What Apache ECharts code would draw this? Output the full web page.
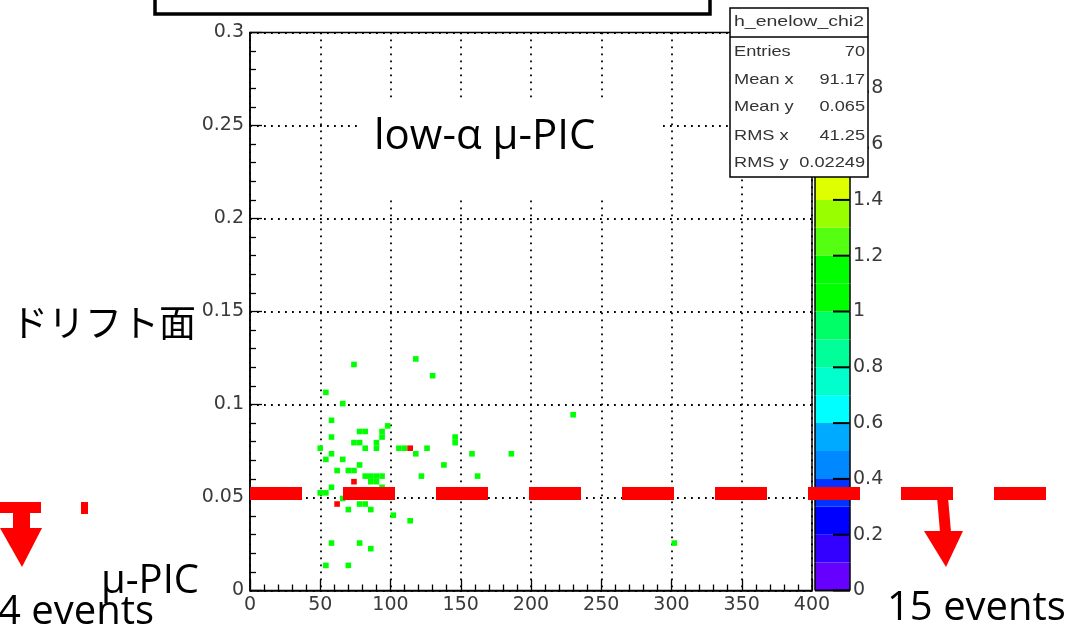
<!DOCTYPE html>
<html><head><meta charset="utf-8">
<script src="https://cdn.jsdelivr.net/npm/echarts@6/dist/echarts.min.js"></script>
<style>html,body{margin:0;padding:0;background:#fff}#c{width:1075px;height:630px}</style>
</head><body><div id="c"></div>
<script>
// ---- data ----
const xTicks = [0, 50, 100, 150, 200, 250, 300, 350, 400];
const yTicks = [0, 0.05, 0.1, 0.15, 0.2, 0.25, 0.3];
const zTicks = [0, 0.2, 0.4, 0.6, 0.8, 1, 1.2, 1.4, 1.6, 1.8, 2];
const BIN_W = 4, BIN_H = 0.003;
const cellX = [74,118,130,54,66,58,58,78,82,98,94,94,74,78,82,90,90,50,58,54,66,106,110,114,118,126,146,146,138,158,186,162,122,230,62,70,74,78,74,82,86,90,94,86,90,94,50,54,58,62,66,70,78,82,86,102,114,58,78,86,54,70,302];
const cellY = [0.1215,0.1245,0.1155,0.1065,0.1005,0.0915,0.0825,0.0855,0.0855,0.0885,0.0855,0.0825,0.0795,0.0795,0.0765,0.0795,0.0765,0.0765,0.0735,0.0705,0.0705,0.0765,0.0765,0.0765,0.0735,0.0765,0.0825,0.0795,0.0675,0.0735,0.0735,0.0615,0.0615,0.0945,0.0645,0.0645,0.0645,0.0675,0.0585,0.0615,0.0615,0.0615,0.0615,0.0585,0.0585,0.0555,0.0525,0.0525,0.0555,0.0465,0.0495,0.0435,0.0465,0.0465,0.0435,0.0405,0.0375,0.0255,0.0255,0.0225,0.0135,0.0135,0.0255];
const cellCount = [1,1,1,1,1,1,1,1,1,1,1,1,1,1,1,1,1,1,1,1,1,1,1,2,1,1,1,1,1,1,1,1,1,1,1,1,1,1,2,1,1,1,1,1,1,1,1,1,1,2,1,1,1,1,1,1,1,1,1,1,1,1,1];
const levels = [0,0.1,0.2,0.3,0.4,0.5,0.6,0.7,0.8,0.9,1.0,1.1,1.2,1.3,1.4,1.5,1.6,1.7,1.8,1.9,2.0];
const bandColors = ['#6600ff','#3300ff','#0000ff','#0033ff','#0088ff','#00aaff','#00ffff','#00ffcc','#00ff99','#00ff66','#00ff00','#00ff00','#55ff11','#99ff00','#ddff00','#ffee00','#ffbb00','#ff8800','#ff4400','#ff0000'];
const statsTitle = 'h_enelow_chi2';
const statsLabels = ['Entries', 'Mean x', 'Mean y', 'RMS x', 'RMS y'];
const statsValues = ['70', '91.17', '0.065', '41.25', '0.02249'];

// ---- helpers ----
function colorFor(v) {
  for (let i = 0; i < bandColors.length; i++) {
    if (v >= levels[i] && v < levels[i + 1]) return bandColors[i];
  }
  return bandColors[bandColors.length - 1];
}
function isZTick(v) {
  return zTicks.some(t => Math.abs(t - v) < 1e-9);
}
const cells = cellX.map((x, i) => [x, cellY[i], cellCount[i]]);
const bands = bandColors.map((c, i) => [levels[i], levels[i + 1], i]);

const LBL = '#3a3a3a';
const AX = {color: '#000', width: 1.5};
const chart = echarts.init(document.getElementById('c'), null, {renderer: 'canvas'});

const statsGraphics = [];
const rowY = [52, 80, 107, 136, 163];
statsLabels.forEach((t, i) => {
  statsGraphics.push({type: 'text', z: 102, x: 734, y: rowY[i], scaleX: 1.3,
    style: {text: t, font: '14px "Liberation Sans"', fill: '#333', verticalAlign: 'middle', textAlign: 'left'}});
  statsGraphics.push({type: 'text', z: 102, x: 865, y: rowY[i], scaleX: 1.3,
    style: {text: statsValues[i], font: '14px "Liberation Sans"', fill: '#333', verticalAlign: 'middle', textAlign: 'right'}});
});

chart.setOption({
  animation: false,
  textStyle: {fontFamily: 'DejaVu Sans'},
  grid: [
    {left: 250, top: 32.5, width: 562, height: 558, show: true, borderColor: '#000', borderWidth: 1.5, containLabel: false},
    {left: 815, top: 32.5, width: 35, height: 558, show: false, containLabel: false}
  ],
  xAxis: [
    {type: 'value', gridIndex: 0, min: xTicks[0], max: xTicks[xTicks.length - 1], interval: xTicks[1] - xTicks[0],
     axisLine: {show: true, onZero: false, lineStyle: AX},
     axisTick: {show: true, inside: true, length: 11, lineStyle: {color: '#000', width: 1.3}},
     minorTick: {show: true, splitNumber: 5, length: 6, lineStyle: {color: '#000', width: 1.3}},
     axisLabel: {color: LBL, fontSize: 19, margin: 5, fontFamily: 'DejaVu Sans'},
     splitLine: {show: true, lineStyle: {color: '#000', width: 1.8, type: [1.8, 5.2]}}},
    {type: 'value', gridIndex: 1, min: 0, max: 1, show: false}
  ],
  yAxis: [
    {type: 'value', gridIndex: 0, min: yTicks[0], max: yTicks[yTicks.length - 1], interval: yTicks[1] - yTicks[0],
     axisLine: {show: true, onZero: false, lineStyle: AX},
     axisTick: {show: true, inside: true, length: 12, lineStyle: {color: '#000', width: 1.3}},
     minorTick: {show: true, splitNumber: 5, length: 6, lineStyle: {color: '#000', width: 1.3}},
     axisLabel: {color: LBL, fontSize: 19, margin: 6, fontFamily: 'DejaVu Sans'},
     splitLine: {show: true, lineStyle: {color: '#000', width: 1.8, type: [1.8, 5.2]}}},
    {type: 'value', gridIndex: 1, position: 'right', min: zTicks[0], max: zTicks[zTicks.length - 1], interval: zTicks[1] - zTicks[0],
     axisLine: {show: false, onZero: false},
     axisTick: {show: false},
     axisLabel: {color: LBL, fontSize: 19, margin: 3, fontFamily: 'DejaVu Sans'},
     splitLine: {show: false}}
  ],
  series: [
    {type: 'custom', xAxisIndex: 0, yAxisIndex: 0, data: cells, encode: {x: 0, y: 1}, z: 2,
     renderItem: function (params, api) {
       const x = api.value(0), y = api.value(1), v = api.value(2);
       const p0 = api.coord([x - BIN_W / 2, y + BIN_H / 2]);
       const p1 = api.coord([x + BIN_W / 2, y - BIN_H / 2]);
       return {type: 'rect', shape: {x: p0[0], y: p0[1], width: p1[0] - p0[0], height: p1[1] - p0[1]},
               style: {fill: colorFor(v)}};
     }},
    // colour bar: each band, its edges and the palette-axis tick at its lower level
    {type: 'custom', xAxisIndex: 1, yAxisIndex: 1, data: bands, encode: {y: [0, 1]}, z: 2,
     renderItem: function (params, api) {
       const lo = api.value(0), hi = api.value(1), i = api.value(2);
       const p0 = api.coord([0, hi]);
       const p1 = api.coord([1, lo]);
       const children = [
         {type: 'rect', shape: {x: p0[0], y: p0[1], width: p1[0] - p0[0], height: p1[1] - p0[1]}, style: {fill: bandColors[i]}},
         {type: 'line', shape: {x1: p0[0], y1: p0[1], x2: p0[0], y2: p1[1]}, style: {stroke: '#000', lineWidth: 1.5}},
         {type: 'line', shape: {x1: p1[0], y1: p0[1], x2: p1[0], y2: p1[1]}, style: {stroke: '#000', lineWidth: 1.5}}
       ];
       if (isZTick(lo)) {
         children.push({type: 'line', shape: {x1: p1[0] - 17, y1: p1[1], x2: p1[0], y2: p1[1]}, style: {stroke: '#000', lineWidth: 2}});
       }
       if (i === 0) {
         children.push({type: 'line', shape: {x1: p0[0], y1: p1[1], x2: p1[0], y2: p1[1]}, style: {stroke: '#000', lineWidth: 2}});
       }
       return {type: 'group', children: children};
     }}
  ],
  graphic: [
    // top box
    {type: 'rect', z: 100, shape: {x: 155, y: -10, width: 555, height: 24}, style: {fill: '#fff', stroke: '#000', lineWidth: 3.5}},
    // white text box
    {type: 'rect', z: 100, shape: {x: 357, y: 100, width: 301, height: 98}, style: {fill: '#fff'}},
    {type: 'text', z: 101, x: 374, y: 137, style: {text: 'low-α μ-PIC', font: '42px "Open Sans"', fill: '#000', verticalAlign: 'middle'}},
    {type: 'text', z: 101, x: 11, y: 323, style: {text: 'ドリフト面', font: '37px "Noto Sans CJK JP"', fill: '#000', verticalAlign: 'middle'}},
    {type: 'text', z: 101, x: 101, y: 582, style: {text: 'μ-PIC', font: '40px "Open Sans"', fill: '#000', verticalAlign: 'middle'}},
    {type: 'text', z: 101, x: -2, y: 613, style: {text: '4 events', font: '40px "Open Sans"', fill: '#000', verticalAlign: 'middle'}},
    {type: 'text', z: 101, x: 887, y: 609, style: {text: '15 events', font: '40px "Open Sans"', fill: '#000', verticalAlign: 'middle'}},
    // red dashed line
    {type: 'line', z: 60, shape: {x1: 250, y1: 493.5, x2: 1048, y2: 493.5}, style: {stroke: '#ff0000', lineWidth: 13, lineDash: [52, 41]}},
    // left arrow
    {type: 'rect', z: 60, shape: {x: 0, y: 502, width: 41, height: 11}, style: {fill: '#ff0000'}},
    {type: 'rect', z: 60, shape: {x: 13, y: 512, width: 17, height: 17}, style: {fill: '#ff0000'}},
    {type: 'polygon', z: 60, shape: {points: [[0, 528], [42, 528], [22, 567]]}, style: {fill: '#ff0000'}},
    {type: 'rect', z: 60, shape: {x: 81, y: 502, width: 7, height: 12}, style: {fill: '#ff0000'}},
    // right arrow
    {type: 'polygon', z: 60, shape: {points: [[937, 497], [948, 497], [951, 532], [940, 532]]}, style: {fill: '#ff0000'}},
    {type: 'polygon', z: 60, shape: {points: [[924, 531], [963, 531], [946, 567]]}, style: {fill: '#ff0000'}},
    // stats box
    {type: 'rect', z: 100, shape: {x: 730, y: 8, width: 138, height: 169}, style: {fill: '#fff', stroke: '#000', lineWidth: 1.5}},
    {type: 'line', z: 101, shape: {x1: 730, y1: 37, x2: 868, y2: 37}, style: {stroke: '#000', lineWidth: 1.5}},
    {type: 'text', z: 102, x: 799, y: 22, scaleX: 1.3, style: {text: statsTitle, font: '15px "Liberation Sans"', fill: '#333', verticalAlign: 'middle', textAlign: 'center'}}
  ].concat(statsGraphics)
});
</script></body></html>
